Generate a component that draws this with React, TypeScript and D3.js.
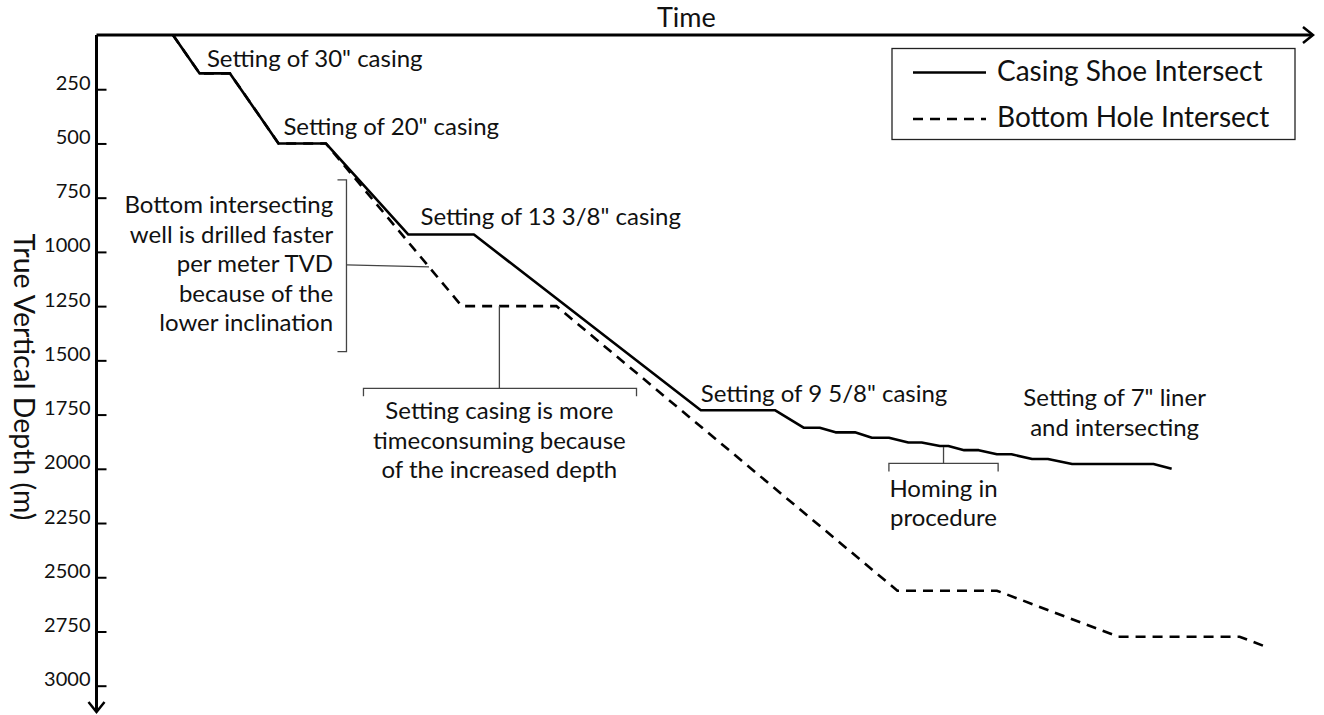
import React, { useEffect, useRef } from 'react';
import * as d3 from 'd3';

// time has no unit on the original chart, so 0..100 along the axis
const casingTime = [6.3, 8.5, 11.0, 15.0, 18.9, 25.7, 31.1, 49.8, 55.9, 58.3, 59.6, 60.9, 62.5, 63.9, 65.3, 66.9, 68.0, 69.5, 70.2, 71.5, 72.7, 74.2, 75.4, 77.1, 78.4, 80.4, 87.1, 88.6];
const casingDepth = [0, 177, 177, 500, 500, 920, 920, 1730, 1730, 1811, 1811, 1832, 1832, 1857, 1857, 1879, 1879, 1895, 1895, 1914, 1914, 1933, 1933, 1955, 1955, 1978, 1978, 2000];

const bottomTime = [6.3, 8.5, 11.0, 15.0, 18.9, 30.1, 37.9, 66.0, 74.2, 84.2, 94.2, 96.2];
const bottomDepth = [0, 177, 177, 500, 500, 1250, 1250, 2562, 2562, 2774, 2774, 2817];

const depthTicks = [250, 500, 750, 1000, 1250, 1500, 1750, 2000, 2250, 2500, 2750, 3000];
const seriesNames = ['Casing Shoe Intersect', 'Bottom Hole Intersect'];

const casingNotes = [
  { lines: ['Setting of 30" casing'], t: 9.1, d: 149, anchor: 'start' },
  { lines: ['Setting of 20" casing'], t: 15.4, d: 461, anchor: 'start' },
  { lines: ['Setting of 13 3/8" casing'], t: 26.7, d: 876, anchor: 'start' },
  { lines: ['Setting of 9 5/8" casing'], t: 49.8, d: 1690, anchor: 'start' },
  { lines: ['Setting of 7" liner', 'and intersecting'], t: 83.9, d: 1712, anchor: 'middle' },
];

const commentNotes = [
  { lines: ['Bottom intersecting', 'well is drilled faster', 'per meter TVD', 'because of the', 'lower inclination'], t: 19.5, d: 822, anchor: 'end' },
  { lines: ['Setting casing is more', 'timeconsuming because', 'of the increased depth'], t: 33.2, d: 1772, anchor: 'middle' },
  { lines: ['Homing in', 'procedure'], t: 69.8, d: 2130, anchor: 'middle' },
];

const width = 1324;
const height = 715;
const font = 'Lato, "Open Sans", sans-serif';

function depthAt(times: number[], depths: number[], t: number) {
  for (let i = 1; i < times.length; i++) {
    if (t <= times[i]) {
      const k = (t - times[i - 1]) / (times[i] - times[i - 1]);
      return depths[i - 1] + k * (depths[i] - depths[i - 1]);
    }
  }
  return depths[depths.length - 1];
}

function App() {
  const ref = useRef<SVGSVGElement>(null);

  useEffect(() => {
    drawChart();
  }, []);

  function drawChart() {
    const svg = d3.select(ref.current);
    svg.selectAll('*').remove();

    const x = d3.scaleLinear().domain([0, 100]).range([96.5, 1310]);
    const y = d3.scaleLinear().domain([0, 3000]).range([35, 685.7]);

    // depth axis, ticks pointing into the plot
    const yAxis = svg
      .append('g')
      .attr('transform', `translate(${x(0)},0)`)
      .call(
        d3.axisLeft(y)
          .tickValues(depthTicks)
          .tickFormat(d3.format('d'))
          .tickSize(-10)
          .tickPadding(6)
      );
    yAxis.select('.domain').remove();
    yAxis.selectAll('.tick line').attr('stroke', '#000').attr('stroke-width', 2);
    yAxis
      .selectAll('.tick text')
      .attr('dy', 0)
      .attr('fill', '#111')
      .style('font-family', font)
      .style('font-size', '20px');

    // axis lines with open arrow heads
    svg.append('line')
      .attr('x1', x(0)).attr('y1', y(0)).attr('x2', 1312).attr('y2', y(0))
      .attr('stroke', '#000').attr('stroke-width', 3);
    svg.append('path')
      .attr('d', `M1303,${y(0) - 8}L1313,${y(0)}L1303,${y(0) + 8}`)
      .attr('fill', 'none').attr('stroke', '#000').attr('stroke-width', 2.5);
    svg.append('line')
      .attr('x1', x(0)).attr('y1', y(0)).attr('x2', x(0)).attr('y2', 711)
      .attr('stroke', '#000').attr('stroke-width', 3);
    svg.append('path')
      .attr('d', `M${x(0) - 8},702L${x(0)},712L${x(0) + 8},702`)
      .attr('fill', 'none').attr('stroke', '#000').attr('stroke-width', 2.5);

    svg.append('text')
      .attr('x', 657).attr('y', 27)
      .attr('fill', '#111')
      .style('font-family', font).style('font-size', '27px')
      .text('Time');

    svg.append('text')
      .attr('transform', 'translate(14,377) rotate(90)')
      .attr('text-anchor', 'middle')
      .attr('fill', '#111')
      .style('font-family', font).style('font-size', '28.5px')
      .text('True Vertical Depth (m)');

    const depthLine = d3.line<[number, number]>().x((p) => x(p[0])).y((p) => y(p[1]));

    svg.append('path')
      .attr('d', depthLine(bottomTime.map((t, i) => [t, bottomDepth[i]])))
      .attr('fill', 'none').attr('stroke', '#000').attr('stroke-width', 2.6)
      .attr('stroke-dasharray', '10,7');

    svg.append('path')
      .attr('d', depthLine(casingTime.map((t, i) => [t, casingDepth[i]])))
      .attr('fill', 'none').attr('stroke', '#000').attr('stroke-width', 2.6)
      .attr('stroke-linejoin', 'round');

    // brackets for the comments
    const br = svg.append('g').attr('fill', 'none').attr('stroke', '#444').attr('stroke-width', 1.3);
    const bx = x(20.6);
    br.append('path').attr('d', `M${bx - 9},${y(668)}H${bx}V${y(1460)}H${bx - 9}`);
    br.append('line')
      .attr('x1', bx).attr('y1', y(1060))
      .attr('x2', x(27.4)).attr('y2', y(depthAt(bottomTime, bottomDepth, 27.4)));

    const b2 = y(1629);
    br.append('path').attr('d', `M${x(22.0)},${b2 + 8}V${b2}H${x(44.5)}V${b2 + 8}`);
    br.append('line')
      .attr('x1', x(33.2)).attr('y1', b2)
      .attr('x2', x(33.2)).attr('y2', y(depthAt(bottomTime, bottomDepth, 33.2)));

    const b3 = y(1975);
    br.append('path').attr('d', `M${x(65.3)},${b3 + 8}V${b3}H${x(74.3)}V${b3 + 8}`);
    br.append('line')
      .attr('x1', x(69.8)).attr('y1', b3)
      .attr('x2', x(69.8)).attr('y2', y(depthAt(casingTime, casingDepth, 69.8)) + 1);

    const notes = svg.append('g')
      .attr('fill', '#111')
      .style('font-family', font)
      .style('font-size', '24px');

    [...casingNotes, ...commentNotes].forEach((n) => {
      n.lines.forEach((s, i) => {
        notes.append('text')
          .attr('x', x(n.t))
          .attr('y', y(n.d) + i * 29.5)
          .attr('text-anchor', n.anchor)
          .text(s);
      });
    });

    // legend
    const lg = svg.append('g');
    lg.append('rect')
      .attr('x', 892).attr('y', 48.5).attr('width', 403).attr('height', 91)
      .attr('fill', '#fff').attr('stroke', '#222').attr('stroke-width', 1.3);
    seriesNames.forEach((name, i) => {
      const ly = 72.5 + i * 46.5;
      lg.append('line')
        .attr('x1', 913).attr('x2', 986).attr('y1', ly).attr('y2', ly)
        .attr('stroke', '#000').attr('stroke-width', 2.6)
        .attr('stroke-dasharray', i === 1 ? '10,7' : null);
      lg.append('text')
        .attr('x', 997).attr('y', ly + 8)
        .attr('fill', '#111')
        .style('font-family', font).style('font-size', '28px')
        .text(name);
    });
  }

  return (
    <svg
      ref={ref}
      width={width}
      height={height}
      style={{ position: 'absolute', left: 0, top: 0, background: '#fff' }}
    />
  );
}

export default App;
